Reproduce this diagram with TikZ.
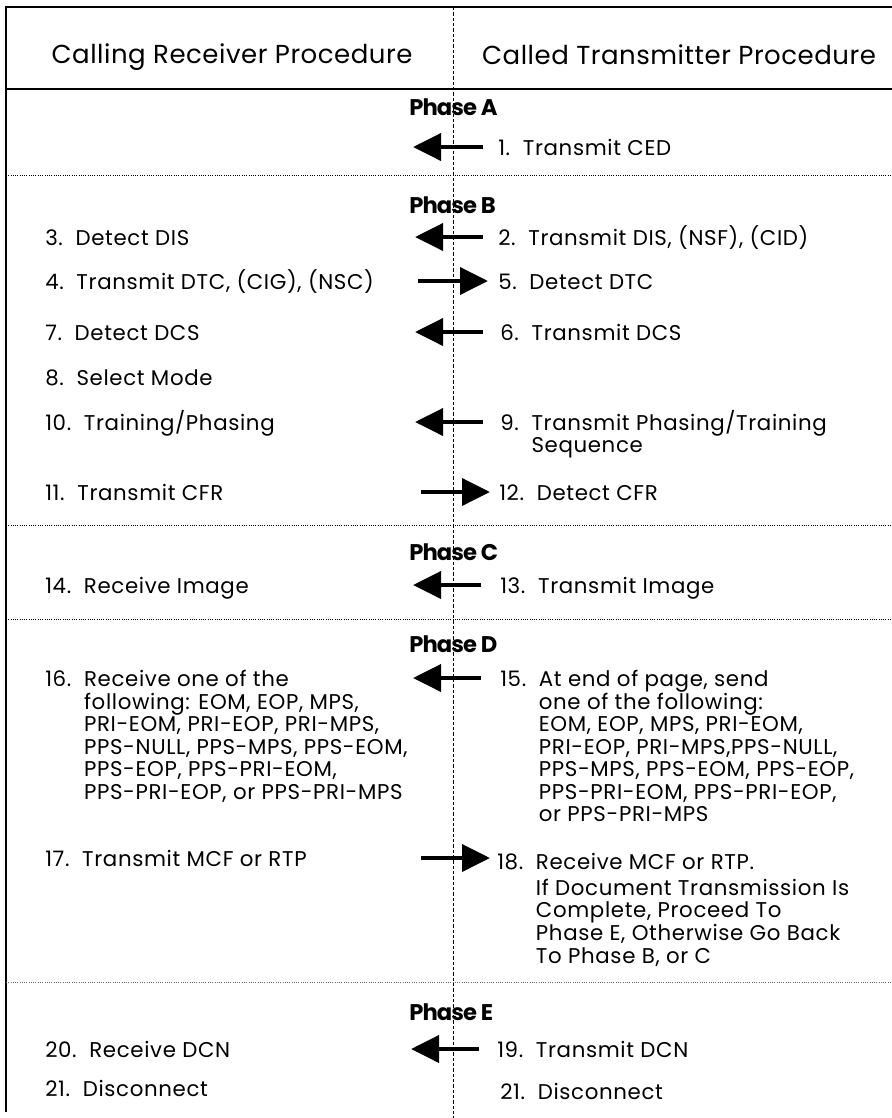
\documentclass[tikz,border=0pt]{standalone}
\usepackage{fontspec}
\setmainfont{Poppins}
\usetikzlibrary{arrows.meta, positioning}
\tikzset{
    % Text styles
    header/.style={
        anchor=base,
        inner sep=0pt,
        font=\fontsize{19.5}{23}\selectfont\addfontfeatures{LetterSpace=2}
    },
    phase/.style={
        anchor=base west,
        inner sep=0pt,
        font=\fontsize{17}{20}\selectfont\bfseries\addfontfeatures{LetterSpace=-4}
    },
    entry/.style={
        anchor=base west,
        inner sep=0pt,
        align=left,
        font=\fontsize{16}{16.9}\selectfont\addfontfeatures{LetterSpace=3}
    },
    % Line styles
    frame line/.style={
        line width=1.3pt,
        black
    },
    divider/.style={
        dash pattern=on 2.5pt off 1.5pt,
        line width=0.6pt
    },
    separator/.style={
        densely dotted,
        line width=0.7pt
    },
    fat arrow/.style={
        -{Triangle[length=21pt, width=20pt]},
        line width=3.6pt
    }
}
\newcommand{\faxentry}[2]{\begin{tabular}[t]{@{}l@{~~}l@{}}#1 & \begin{tabular}[t]{@{}l@{}}#2\end{tabular}\end{tabular}}

\begin{document}
\begin{tikzpicture}[x=0.75pt, y=-0.75pt]
        \useasboundingbox (0,0) rectangle (892,1118);

        % Frame and separators
        \draw[frame line] (6,1112) -- (6,7) -- (892,7);
        \draw[frame line, line width=1pt] (6,89) -- (892,89);
        \draw[divider] (453,7) -- (453,1118);
        \draw[separator] (6,175) -- (892,175);
        \draw[separator] (6,525) -- (892,525);
        \draw[separator] (6,619) -- (892,619);
        \draw[separator, black!60] (6,982) -- (892,982);

        % Column headers
        \node[header] (hdrL) at (232,63) {Calling Receiver Procedure};
        \node[header] (hdrR) at (679,64) {Called Transmitter Procedure};

        % Phase A
        \node[phase] (phaseA) at (409,115) {Phase A};
        \node[entry] (s1) at (498,155) {1.~~Transmit CED};
        \coordinate (a1tail) at (483,147);
        \coordinate (a1tip) at (413,147);
        \draw[fat arrow] (a1tail) -- (a1tip);

        % Phase B
        \node[phase] (phaseB) at (409,213) {Phase B};
        \node[entry] (s3) at (45,245) {3.~~Detect DIS};
        \node[entry] (s2) at (498,245) {2.~~Transmit DIS, (NSF), (CID)};
        \node[entry] (s4) at (45,289) {4.~~Transmit DTC, (CIG), (NSC)};
        \node[entry] (s5) at (498,289) {5.~~Detect DTC};
        \node[entry] (s7) at (45,340) {7.~~Detect DCS};
        \node[entry] (s6) at (500,340) {6.~~Transmit DCS};
        \node[entry] (s8) at (45,385) {8.~~Select Mode};
        \node[entry] (s10) at (45,430) {10.~~Training/Phasing};
        \node[entry] (s9) at (500,430) {\faxentry{9.}{Transmit Phasing/Training\\Sequence}};
        \node[entry] (s11) at (45,500) {11.~~Transmit CFR};
        \node[entry] (s12) at (499,500) {12.~~Detect CFR};

        \coordinate (a2tail) at (483,237);
        \coordinate (a2tip) at (415,237);
        \draw[fat arrow] (a2tail) -- (a2tip);
        \coordinate (a4tail) at (418,281);
        \coordinate (a4tip) at (488,281);
        \draw[fat arrow] (a4tail) -- (a4tip);
        \coordinate (a6tail) at (483,332);
        \coordinate (a6tip) at (415,332);
        \draw[fat arrow] (a6tail) -- (a6tip);
        \coordinate (a9tail) at (483,422);
        \coordinate (a9tip) at (415,422);
        \draw[fat arrow] (a9tail) -- (a9tip);
        \coordinate (a11tail) at (421,492);
        \coordinate (a11tip) at (490,492);
        \draw[fat arrow] (a11tail) -- (a11tip);

        % Phase C
        \node[phase] (phaseC) at (409,560) {Phase C};
        \node[entry] (s14) at (45,593) {14.~~Receive Image};
        \node[entry] (s13) at (500,593) {13.~~Transmit Image};
        \coordinate (a13tail) at (481,585);
        \coordinate (a13tip) at (413,585);
        \draw[fat arrow] (a13tail) -- (a13tip);

        % Phase D
        \node[phase] (phaseD) at (409,652) {Phase D};
        \node[entry] (s16) at (45,686) {\faxentry{16.}{Receive one of the\\following: EOM, EOP, MPS,\\PRI-EOM, PRI-EOP, PRI-MPS,\\PPS-NULL, PPS-MPS, PPS-EOM,\\PPS-EOP, PPS-PRI-EOM,\\PPS-PRI-EOP, or PPS-PRI-MPS}};
        \node[entry] (s15) at (500,686) {\faxentry{15.}{At end of page, send\\one of the following:\\EOM, EOP, MPS, PRI-EOM,\\PRI-EOP, PRI-MPS,PPS-NULL,\\PPS-MPS, PPS-EOM, PPS-EOP,\\PPS-PRI-EOM, PPS-PRI-EOP,\\or PPS-PRI-MPS}};
        \node[entry] (s17) at (45,866) {17.~~Transmit MCF or RTP};
        \node[entry] (s18) at (497,869) {\faxentry{18.}{Receive MCF or RTP.\\[2.5pt]If Document Transmission Is\\Complete, Proceed To\\Phase E, Otherwise Go Back\\To Phase B, or C}};
        \coordinate (a15tail) at (481,678);
        \coordinate (a15tip) at (413,678);
        \draw[fat arrow] (a15tail) -- (a15tip);
        \coordinate (a17tail) at (421,858);
        \coordinate (a17tip) at (490,858);
        \draw[fat arrow] (a17tail) -- (a17tip);

        % Phase E
        \node[phase] (phaseE) at (409,1020) {Phase E};
        \node[entry] (s20) at (45,1057) {20.~~Receive DCN};
        \node[entry] (s19) at (497,1057) {19.~~Transmit DCN};
        \node[entry] (s21L) at (45,1096) {21.~~Disconnect};
        \node[entry] (s21R) at (500,1099) {21.~~Disconnect};
        \coordinate (a19tail) at (479,1049);
        \coordinate (a19tip) at (411,1049);
        \draw[fat arrow] (a19tail) -- (a19tip);
\end{tikzpicture}
\end{document}
